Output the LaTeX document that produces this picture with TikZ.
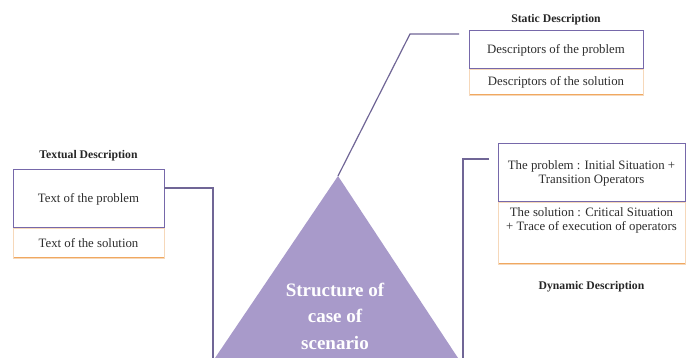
\documentclass[tikz,border=0pt]{standalone}
\usepackage{fontspec}
\setmainfont{Liberation Serif}
\usetikzlibrary{positioning}
\definecolor{triviolet}{RGB}{168,154,202}
\definecolor{probline}{RGB}{118,104,170}
\definecolor{solline}{RGB}{240,168,96}
\definecolor{solside}{RGB}{246,216,186}
\definecolor{linkgray}{RGB}{112,102,150}
\definecolor{txtgray}{RGB}{45,45,45}
\tikzset{
  boxtext/.style={text=txtgray, font=\fontsize{12.8}{14}\selectfont, align=center, inner xsep=2pt, inner ysep=2pt},
  probbox/.style={boxtext, draw=probline, line width=1pt, fill=white, outer sep=0pt},
  solbox/.style={boxtext, draw=solside, line width=0.8pt, fill=white, outer sep=0pt,
    path picture={\draw[solline, line width=2.4pt] (path picture bounding box.south west) -- (path picture bounding box.south east);}},
  title/.style={font=\bfseries\fontsize{11.7}{13}\selectfont, text=black!85, inner sep=1pt},
  tritext/.style={font=\bfseries\fontsize{19}{26.5}\selectfont, text=white, align=center},
  link/.style={draw=linkgray, line width=1.2pt},
}

\begin{document}
\begin{tikzpicture}[x=1pt,y=-1pt]
    \useasboundingbox (0,0) rectangle (689,358);

    % triangle
    \coordinate (apex) at (338,176);
    \coordinate (tleft) at (215,358);
    \coordinate (tright) at (458,358);
    \fill[triviolet] (apex) -- (tleft) -- (tright) -- cycle;
    \node[tritext] (tritxt) at (335,316) {Structure of\\case of\\scenario};

    % textual description
    \node[solbox, anchor=north west, minimum width=151, minimum height=30] (txtsol) at (13,228) {Text of the solution};
    \node[probbox, above=0pt of txtsol, minimum width=151, minimum height=58] (txtprob) {Text of the problem};
    \node[title, above=8pt of txtprob] (txttitle) {Textual Description};

    % static description
    \node[solbox, anchor=north west, minimum width=174, minimum height=26] (stsol) at (469,69) {Descriptors of the solution};
    \node[probbox, above=0pt of stsol, minimum width=174, minimum height=38] (stprob) {Descriptors of the problem};
    \node[title, above=5pt of stprob] (sttitle) {Static Description};

    % dynamic description
    \node[solbox, anchor=north west, minimum width=187, minimum height=62] (dysol) at (498,202) {};
    \node[boxtext, below=3pt of dysol.north] (dysoltxt) {The solution : Critical Situation\\+ Trace of execution of operators};
    \node[probbox, above=0pt of dysol, minimum width=187, minimum height=58] (dyprob) {The problem : Initial Situation +\\Transition Operators};
    \node[title, below=16pt of dysol] (dytitle) {Dynamic Description};

    % connectors
    \coordinate (lfoot) at (213,358);
    \coordinate (stbend) at (410,34);
    \coordinate (rfoot) at (463,358);
    \draw[link] ([yshift=11pt]txtprob.east) -| (lfoot);
    \draw[link] ([xshift=-10pt,yshift=-3pt]stprob.north west) -- (stbend) -- (apex);
    \draw[link] ([xshift=-9pt,yshift=-15pt]dyprob.north west) -| (rfoot);

\end{tikzpicture}
\end{document}
